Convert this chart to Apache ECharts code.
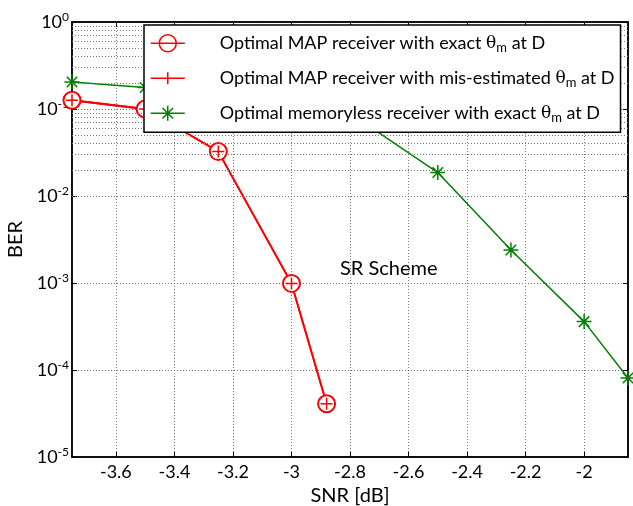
<!DOCTYPE html>
<html>
<head>
<meta charset="utf-8">
<script src="https://cdn.jsdelivr.net/npm/echarts@6/dist/echarts.min.js"></script>
<style>
  html, body { margin: 0; padding: 0; background: #fff; }
  #chart { width: 633px; height: 506px; }
</style>
</head>
<body>
<div id="chart"></div>
<script>
// data
var snrMap = [-3.75, -3.5, -3.25, -3.0, -2.88];
var berMapExact = [0.126, 0.1, 0.0324, 0.00099, 4.1e-5];
var berMapMis = [0.126, 0.1, 0.0324, 0.00099, 4.1e-5];
var snrMemoryless = [-3.75, -3.5, -3.25, -3.0, -2.75, -2.5, -2.25, -2.0, -1.85];
var berMemoryless = [0.204, 0.177, 0.14, 0.105, 0.069, 0.0186, 0.0024, 0.00036, 8.1e-5];
var seriesNames = [
    'Optimal MAP receiver with exact θm at D',
    'Optimal MAP receiver with mis-estimated θm at D',
    'Optimal memoryless receiver with exact θm at D'
];
// minor log grid lines (2..9 of every decade)
var minorGrid = [];
for (var e = -5; e < 0; e++) {
    for (var k = 2; k <= 9; k++) {
        minorGrid.push(k * Math.pow(10, e));
    }
}

var FONT = 'Lato';
var RED = '#ff0000', GREEN = '#008000';
var gridDot = { color: '#777', width: 1, type: [1, 2] };

function pairs(xs, ys) {
    var out = [];
    for (var i = 0; i < xs.length; i++) out.push([xs[i], ys[i]]);
    return out;
}

var plusPath = 'path://M5,0L5,10M0,5L10,5';
var starPath = 'path://M5,0L5,10M0,5L10,5M1.5,1.5L8.5,8.5M1.5,8.5L8.5,1.5';
// legend icons: line sample with marker in the middle
var legendIcons = [
    'path://M0,8.5L34,8.5M25.5,8.5A8.5,8.5,0,1,1,8.5,8.5A8.5,8.5,0,1,1,25.5,8.5',
    'path://M0,6L34,6M17,0L17,12',
    'path://M0,7.5L34,7.5M17,0L17,15M11.7,2.2L22.3,12.8M11.7,12.8L22.3,2.2'
];
var legendColors = [RED, RED, GREEN];

var myChart = echarts.init(document.getElementById('chart'));
var option = {
    animation: false,
    backgroundColor: '#fff',
    textStyle: { fontFamily: FONT },
    grid: {
        left: 72, right: 5, top: 22, bottom: 49,
        outerBoundsMode: 'none', containLabel: false,
        show: true, borderColor: '#000', borderWidth: 1.5
    },
    legend: {
        orient: 'vertical',
        left: 144,
        top: 25,
        z: 20,
        backgroundColor: '#fff',
        borderColor: '#000',
        borderWidth: 1.5,
        borderRadius: 0,
        padding: [9, 6, 8, 6],
        itemWidth: 34,
        itemHeight: 17,
        itemGap: 15,
        selectedMode: false,
        data: seriesNames.map(function (n, i) {
            return {
                name: n,
                icon: legendIcons[i],
                itemStyle: { color: 'rgba(0,0,0,0)', borderColor: legendColors[i], borderWidth: 1.5 }
            };
        }),
        formatter: function (name) {
            var i = name.indexOf('θm');
            return '{t|' + name.slice(0, i) + '}{g|θ}{s|m}{t|' + name.slice(i + 2) + '}';
        },
        textStyle: {
            rich: {
                t: { fontFamily: FONT, fontSize: 18, color: '#000' },
                g: { fontFamily: 'DejaVu Serif', fontSize: 17, color: '#000' },
                s: { fontFamily: FONT, fontSize: 13, color: '#000', verticalAlign: 'bottom', padding: [9, 0, 0, 0] }
            },
            padding: [0, 0, 0, 30]
        }
    },
    graphic: [{
        type: 'text',
        left: 340,
        top: 259,
        style: { text: 'SR Scheme', font: '20px Lato', fill: '#000' }
    }],
    xAxis: [{
        type: 'value',
        min: -3.75,
        max: -1.85,
        splitNumber: 10,
        name: 'SNR [dB]',
        nameLocation: 'middle',
        nameGap: 26,
        nameTextStyle: { fontSize: 20, color: '#000', fontFamily: FONT },
        axisLine: { lineStyle: { color: '#000', width: 1.5 } },
        axisTick: { inside: true, length: 5, lineStyle: { color: '#000' } },
        axisLabel: { showMinLabel: false, showMaxLabel: false, fontSize: 18, color: '#000', margin: 6, fontFamily: FONT },
        splitLine: { show: true, lineStyle: gridDot }
    }, {
        type: 'value',
        position: 'top',
        min: -3.75,
        max: -1.85,
        splitNumber: 10,
        axisLine: { lineStyle: { color: '#000', width: 1.5 } },
        axisTick: { inside: true, length: 5, lineStyle: { color: '#000' } },
        axisLabel: { show: false },
        splitLine: { show: false }
    }],
    yAxis: [{
        type: 'log',
        logBase: 10,
        min: 1e-5,
        max: 1,
        name: 'BER',
        nameLocation: 'middle',
        nameGap: 40,
        nameTextStyle: { fontSize: 20, color: '#000', fontFamily: FONT },
        axisLine: { lineStyle: { color: '#000', width: 1.5 } },
        axisTick: { inside: true, length: 5, lineStyle: { color: '#000' } },
        axisLabel: {
            margin: 3,
            formatter: function (v) {
                var ex = Math.round(Math.log10(v));
                return '{b|10}{e|' + ex + '}';
            },
            rich: {
                b: { fontFamily: FONT, fontSize: 18, color: '#000' },
                e: { fontFamily: FONT, fontSize: 12, color: '#000', verticalAlign: 'top', padding: [0, 0, 10, 0] }
            }
        },
        splitLine: { show: true, lineStyle: gridDot }
    }, {
        type: 'log',
        logBase: 10,
        min: 1e-5,
        max: 1,
        position: 'right',
        axisLine: { lineStyle: { color: '#000', width: 1.5 } },
        axisTick: { inside: true, length: 5, lineStyle: { color: '#000' } },
        axisLabel: { show: false },
        splitLine: { show: false }
    }],
    series: [{
        name: seriesNames[0],
        type: 'line',
        data: pairs(snrMap, berMapExact),
        symbol: 'emptyCircle',
        symbolSize: 17,
        lineStyle: { color: RED, width: 1.8 },
        itemStyle: { color: RED, borderColor: RED, borderWidth: 1.5 },
        emphasis: { disabled: true },
        markLine: {
            silent: true,
            symbol: 'none',
            label: { show: false },
            lineStyle: gridDot,
            data: minorGrid.map(function (v) { return { yAxis: v }; })
        }
    }, {
        name: seriesNames[1],
        type: 'line',
        data: pairs(snrMap, berMapMis),
        symbol: plusPath,
        symbolSize: 12,
        lineStyle: { color: RED, width: 1.8 },
        itemStyle: { color: RED, borderColor: RED, borderWidth: 1.5 },
        emphasis: { disabled: true }
    }, {
        name: seriesNames[2],
        type: 'line',
        data: pairs(snrMemoryless, berMemoryless),
        symbol: starPath,
        symbolSize: 15,
        lineStyle: { color: GREEN, width: 1.5 },
        itemStyle: { color: GREEN, borderColor: GREEN, borderWidth: 1.5 },
        emphasis: { disabled: true }
    }]
};
myChart.setOption(option);
</script>
</body>
</html>
